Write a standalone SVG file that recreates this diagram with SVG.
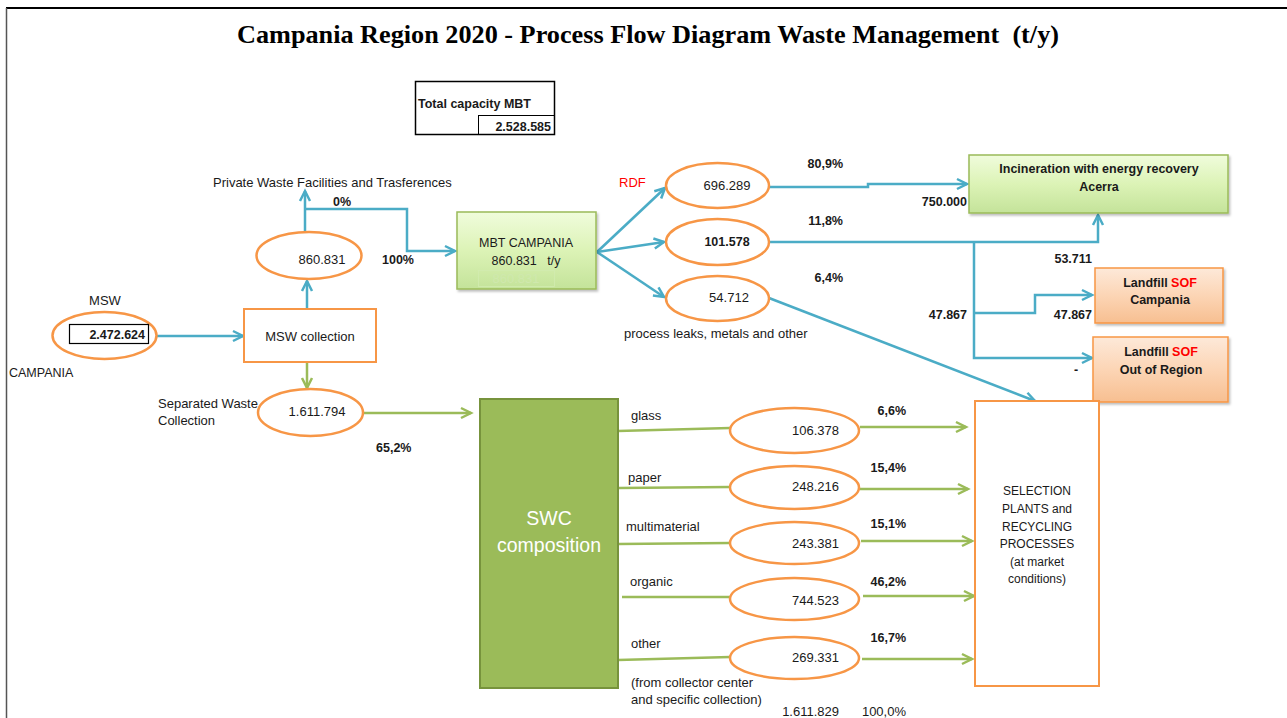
<svg xmlns="http://www.w3.org/2000/svg" width="1287" height="718" viewBox="0 0 1287 718">
<style>
text{font-family:"Liberation Sans",Arial,sans-serif;font-size:13px;fill:#1a1a1a}
.b{font-weight:bold;font-size:12.5px}
.c{text-anchor:middle}
.r{text-anchor:end}
.s{font-size:12px}
.ell{fill:#fff;stroke:#f79646;stroke-width:2.5}
.blue{fill:none;stroke:#4bacc6;stroke-width:2.5;marker-end:url(#ab)}
.green{fill:none;stroke:#9bbb59;stroke-width:2.5;marker-end:url(#ag)}
.greenn{fill:none;stroke:#9bbb59;stroke-width:2.5}
.obox{fill:#fff;stroke:#f79646;stroke-width:2}
.red{fill:#ff0000}
</style>
<defs>
<marker id="ab" markerUnits="userSpaceOnUse" markerWidth="14" markerHeight="14" refX="11" refY="6" orient="auto" viewBox="0 0 14 12">
<path d="M1,1 L11,6 L1,11" fill="none" stroke="#4bacc6" stroke-width="2.5"/>
</marker>
<marker id="ag" markerUnits="userSpaceOnUse" markerWidth="14" markerHeight="14" refX="11" refY="6" orient="auto" viewBox="0 0 14 12">
<path d="M1,1 L11,6 L1,11" fill="none" stroke="#9bbb59" stroke-width="2.5"/>
</marker>
<linearGradient id="gg" x1="0" y1="0" x2="0" y2="1">
<stop offset="0" stop-color="#f0fcdc"/>
<stop offset="0.5" stop-color="#dcf3b6"/>
<stop offset="1" stop-color="#c4e39a"/>
</linearGradient>
<linearGradient id="og" x1="0" y1="0" x2="0" y2="1">
<stop offset="0" stop-color="#fde9d9"/>
<stop offset="0.5" stop-color="#fcd5b5"/>
<stop offset="1" stop-color="#f7bf91"/>
</linearGradient>
<filter id="sh" x="-10%" y="-10%" width="120%" height="130%">
<feDropShadow dx="1.5" dy="2" stdDeviation="1.2" flood-color="#000" flood-opacity="0.25"/>
</filter>
</defs>
<rect width="1287" height="718" fill="#fff"/>
<g id="frame">
<line x1="6" y1="8" x2="1287" y2="8" stroke="#000" stroke-width="2"/>
<line x1="6.5" y1="8" x2="6.5" y2="718" stroke="#555" stroke-width="1.5"/>
</g>
<text x="648" y="43" class="c" xml:space="preserve" textLength="822" lengthAdjust="spacingAndGlyphs" style="font-family:'Liberation Serif','Times New Roman',serif;font-size:25px;font-weight:bold;fill:#000">Campania Region 2020 - Process Flow Diagram Waste Management  (t/y)</text>

<g id="total-capacity">
<rect x="415.5" y="81.5" width="139" height="53" fill="#fff" stroke="#000" stroke-width="1.5"/>
<rect x="478.5" y="115.5" width="76" height="19" fill="none" stroke="#000" stroke-width="1"/>
<text x="418" y="108" class="b">Total capacity MBT</text>
<text x="551" y="131" class="b r">2.528.585</text>
</g>

<g id="connectors">
<path class="blue" d="M157,336 H243"/>
<path class="blue" d="M307,308 V281"/>
<path class="blue" d="M305,232 V191"/>
<path class="blue" d="M305,209 H407 V251 H455"/>
<path class="blue" d="M597,252 L665,188"/>
<path class="blue" d="M597,252 L664,242"/>
<path class="blue" d="M597,252 L664,297"/>
<path class="blue" d="M769,187 H868 V184 H967"/>
<path class="blue" d="M769,242 H1098 V215"/>
<path class="blue" d="M974,242 V358 H1092"/>
<path class="blue" d="M974,313 H1035 V295 H1092"/>
<path class="blue" d="M769,298 L1035,401"/>
<path class="green" d="M307,362 V388"/>
<path class="green" d="M363,413 H471"/>
<path class="greenn" d="M618,431 L730,428"/>
<path class="greenn" d="M618,488 L730,487"/>
<path class="greenn" d="M618,544 L730,543"/>
<path class="greenn" d="M622,597 L730,597"/>
<path class="greenn" d="M618,660 L730,657"/>
<path class="green" d="M860,427 H966"/>
<path class="green" d="M860,489 H968"/>
<path class="green" d="M861,541 H972"/>
<path class="green" d="M863,596 H974"/>
<path class="green" d="M862,659 H972"/>
</g>

<g id="msw">
<ellipse class="ell" cx="104.5" cy="335.5" rx="52" ry="23.5"/>
<rect x="69.5" y="324.5" width="79" height="19" fill="#fff" stroke="#000" stroke-width="1.2"/>
<text x="145" y="339" class="b r">2.472.624</text>
<text x="105" y="305" class="c">MSW</text>
<text x="9" y="377" style="font-size:12.5px">CAMPANIA</text>
</g>

<g id="msw-collection">
<rect class="obox" x="244" y="309" width="132" height="53"/>
<text x="310" y="341" class="c">MSW collection</text>
</g>

<g id="e860">
<ellipse class="ell" cx="309" cy="255.5" rx="52.5" ry="23.5"/>
<text x="322" y="264" class="c">860.831</text>
</g>
<text x="213" y="187">Private Waste Facilities and Trasferences</text>
<text x="333" y="206" class="b">0%</text>
<text x="382" y="264" class="b">100%</text>

<g id="e1611">
<ellipse class="ell" cx="310.5" cy="412.5" rx="52.5" ry="23.5"/>
<text x="317" y="416" class="c">1.611.794</text>
</g>
<text x="158" y="408">Separated Waste</text>
<text x="158" y="425">Collection</text>
<text x="376" y="452" class="b">65,2%</text>

<g id="mbt">
<rect x="457" y="212" width="139" height="77" fill="url(#gg)" stroke="#9bbb59" stroke-width="1.5" filter="url(#sh)"/>
<rect x="478.5" y="270.5" width="76" height="16" fill="none" stroke="#d2ebb0" stroke-width="0.8"/>
<text x="516" y="283" class="c" style="fill:#cfe8ad">860.831</text>
<text x="526" y="247" class="c" style="font-size:12.5px">MBT CAMPANIA</text>
<text x="526" y="265" class="c" style="font-size:12.5px" xml:space="preserve">860.831   t/y</text>
</g>

<text x="619" y="187" class="red">RDF</text>
<g id="e696">
<ellipse class="ell" cx="717.5" cy="185.5" rx="51.5" ry="22.5"/>
<text x="727" y="190" class="c">696.289</text>
</g>
<g id="e101">
<ellipse class="ell" cx="717.5" cy="242" rx="51.5" ry="23"/>
<text x="727" y="246" class="c b">101.578</text>
</g>
<g id="e54">
<ellipse class="ell" cx="717.5" cy="298.5" rx="51.5" ry="22.5"/>
<text x="729" y="302" class="c">54.712</text>
</g>
<text x="624" y="338">process leaks, metals and other</text>
<text x="843" y="168" class="b r">80,9%</text>
<text x="843" y="225" class="b r">11,8%</text>
<text x="843" y="282" class="b r">6,4%</text>

<g id="incineration">
<rect x="969" y="155" width="259" height="58" fill="url(#gg)" stroke="#9bbb59" stroke-width="1.5" filter="url(#sh)"/>
<text x="1099" y="173" class="c b">Incineration with energy recovery</text>
<text x="1099" y="191" class="c b">Acerra</text>
</g>
<text x="967" y="206" class="b r">750.000</text>
<text x="1092" y="263" class="b r">53.711</text>
<text x="967" y="319" class="b r">47.867</text>
<text x="1092" y="319" class="b r">47.867</text>
<text x="1076" y="374" class="b c">-</text>

<g id="landfill-campania">
<rect x="1095" y="268" width="128" height="55" fill="url(#og)" stroke="#f79646" stroke-width="1.5" filter="url(#sh)"/>
<text x="1160" y="287" class="c b">Landfill <tspan class="red">SOF</tspan></text>
<text x="1160" y="304" class="c b">Campania</text>
</g>
<g id="landfill-out">
<rect x="1093" y="337" width="135" height="65" fill="url(#og)" stroke="#f79646" stroke-width="1.5" filter="url(#sh)"/>
<text x="1161" y="356" class="c b">Landfill <tspan class="red">SOF</tspan></text>
<text x="1161" y="374" class="c b">Out of Region</text>
</g>

<g id="swc">
<rect x="480" y="399" width="138" height="289" fill="#9bbb59" stroke="#77933c" stroke-width="2"/>
<text x="549" y="525" class="c" style="fill:#fff;font-size:19.5px">SWC</text>
<text x="549" y="552" class="c" style="fill:#fff;font-size:19.5px">composition</text>
</g>
<text x="631" y="420">glass</text>
<text x="628" y="482">paper</text>
<text x="626" y="531">multimaterial</text>
<text x="630" y="586">organic</text>
<text x="631" y="648">other</text>
<text x="631" y="687">(from collector center</text>
<text x="631" y="704">and specific collection)</text>

<g id="e-glass">
<ellipse class="ell" cx="794.5" cy="430.5" rx="64.5" ry="22.5"/>
<text x="839" y="435" class="r">106.378</text>
</g>
<g id="e-paper">
<ellipse class="ell" cx="794.5" cy="487.5" rx="64.5" ry="21.5"/>
<text x="839" y="491" class="r">248.216</text>
</g>
<g id="e-multi">
<ellipse class="ell" cx="794.5" cy="543" rx="64.5" ry="21"/>
<text x="839" y="548" class="r">243.381</text>
</g>
<g id="e-organic">
<ellipse class="ell" cx="794.5" cy="599" rx="64.5" ry="21"/>
<text x="839" y="605" class="r">744.523</text>
</g>
<g id="e-other">
<ellipse class="ell" cx="794.5" cy="658" rx="64.5" ry="21"/>
<text x="839" y="662" class="r">269.331</text>
</g>
<text x="906" y="415" class="b r">6,6%</text>
<text x="906" y="472" class="b r">15,4%</text>
<text x="906" y="528" class="b r">15,1%</text>
<text x="906" y="586" class="b r">46,2%</text>
<text x="906" y="642" class="b r">16,7%</text>
<text x="839" y="716" class="r">1.611.829</text>
<text x="906" y="716" class="r">100,0%</text>

<g id="selection">
<rect class="obox" x="975" y="401" width="124" height="285"/>
<text x="1037" y="495" class="c s">SELECTION</text>
<text x="1037" y="513" class="c s">PLANTS and</text>
<text x="1037" y="531" class="c s">RECYCLING</text>
<text x="1037" y="548" class="c s">PROCESSES</text>
<text x="1037" y="566" class="c s">(at market</text>
<text x="1037" y="583" class="c s">conditions)</text>
</g>
</svg>
